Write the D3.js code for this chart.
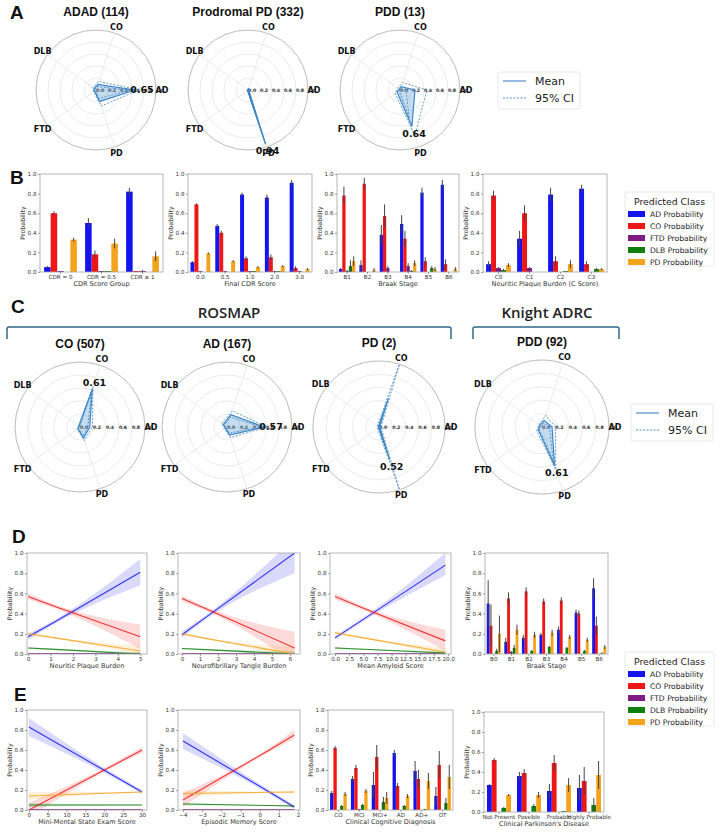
<!DOCTYPE html>
<html>
<head>
<meta charset="utf-8">
<script src="https://cdn.jsdelivr.net/npm/d3@7"></script>
<style>
body { margin: 0; background: #fff; }
</style>
</head>
<body>
<script>
// ---- classes / colours ----
var classes = ["AD", "CO", "FTD", "DLB", "PD"];
var classNames = ["AD Probability", "CO Probability", "FTD Probability", "DLB Probability", "PD Probability"];
var classColor = {AD: "#1414ee", CO: "#ee1616", FTD: "#7c1a86", DLB: "#0d800d", PD: "#f4a31c"};
// radar spokes, counter-clockwise from 3 o'clock
var radarAxes = ["AD", "CO", "DLB", "FTD", "PD"];
var radarTicks = [0, 0.2, 0.4, 0.6, 0.8, 1.0];

// ---- A : radar mean / 95% CI (order = radarAxes) ----
var adadMean = [0.65, 0.10, 0.04, 0.03, 0.20];
var adadLo   = [0.57, 0.06, 0.02, 0.01, 0.15];
var adadHi   = [0.72, 0.15, 0.07, 0.05, 0.28];
var prodMean = [0.01, 0.02, 0.01, 0.01, 0.94];
var prodLo   = [0.005, 0.015, 0.005, 0.005, 0.93];
var prodHi   = [0.015, 0.025, 0.015, 0.015, 0.95];
var pddMean  = [0.25, 0.06, 0.02, 0.06, 0.64];
var pddLo    = [0.10, 0.02, 0.00, 0.02, 0.50];
var pddHi    = [0.45, 0.13, 0.05, 0.10, 0.80];

// ---- C : radar mean / 95% CI ----
var rosCoMean = [0.15, 0.61, 0.02, 0.04, 0.18];
var rosCoLo   = [0.12, 0.57, 0.01, 0.03, 0.15];
var rosCoHi   = [0.19, 0.65, 0.03, 0.06, 0.22];
var rosAdMean = [0.57, 0.20, 0.07, 0.03, 0.13];
var rosAdLo   = [0.52, 0.16, 0.05, 0.02, 0.10];
var rosAdHi   = [0.62, 0.26, 0.10, 0.05, 0.17];
var rosPdMean = [0.01, 0.46, 0.01, 0.01, 0.52];
var rosPdLo   = [0.00, 0.00, 0.00, 0.00, 0.04];
var rosPdHi   = [0.03, 1.00, 0.03, 0.03, 1.00];
var knPddMean = [0.15, 0.10, 0.04, 0.07, 0.61];
var knPddLo   = [0.11, 0.06, 0.02, 0.05, 0.55];
var knPddHi   = [0.20, 0.18, 0.06, 0.10, 0.67];

// ---- B : bar charts ----
var cdrGroupCats = ["CDR = 0", "CDR = 0.5", "CDR \u2265 1"];
var cdrGroupVals = {AD: [0.05, 0.50, 0.82], CO: [0.60, 0.18, 0.01], FTD: [0.01, 0.01, 0.01], DLB: [0.00, 0.01, 0.00], PD: [0.33, 0.29, 0.16]};
var cdrGroupErr  = {AD: [0.01, 0.05, 0.04], CO: [0.02, 0.04, 0.00], FTD: [0, 0, 0.01], DLB: [0, 0, 0], PD: [0.02, 0.05, 0.05]};

var cdrCats = ["0.0", "0.5", "1.0", "2.0", "3.0"];
var cdrVals = {AD: [0.10, 0.47, 0.79, 0.76, 0.91], CO: [0.69, 0.40, 0.14, 0.15, 0.04], FTD: [0.01, 0.01, 0.01, 0.01, 0.01], DLB: [0.00, 0.00, 0.01, 0.01, 0.00], PD: [0.19, 0.11, 0.05, 0.06, 0.03]};
var cdrErr  = {AD: [0.01, 0.02, 0.02, 0.03, 0.03], CO: [0.01, 0.02, 0.02, 0.03, 0.02], FTD: [0, 0, 0, 0, 0], DLB: [0, 0, 0, 0, 0], PD: [0.01, 0.01, 0.01, 0.01, 0.01]};

var braakCats = ["B1", "B2", "B3", "B4", "B5", "B6"];
var braakVals = {AD: [0.03, 0.07, 0.38, 0.49, 0.81, 0.89], CO: [0.78, 0.90, 0.57, 0.34, 0.11, 0.08], FTD: [0.01, 0.00, 0.04, 0.06, 0.00, 0.00], DLB: [0.06, 0.00, 0.00, 0.01, 0.04, 0.00], PD: [0.11, 0.02, 0.00, 0.09, 0.03, 0.03]};
var braakErr  = {AD: [0.01, 0.05, 0.10, 0.09, 0.05, 0.05], CO: [0.09, 0.06, 0.12, 0.08, 0.04, 0.05], FTD: [0.01, 0, 0.02, 0.03, 0, 0], DLB: [0.06, 0, 0, 0.01, 0.02, 0], PD: [0.05, 0.02, 0, 0.03, 0.02, 0.02]};

var plaqueCats = ["C0", "C1", "C2", "C3"];
var plaqueVals = {AD: [0.08, 0.34, 0.79, 0.85], CO: [0.78, 0.60, 0.11, 0.08], FTD: [0.04, 0.04, 0.00, 0.00], DLB: [0.02, 0.00, 0.01, 0.03], PD: [0.07, 0.00, 0.08, 0.03]};
var plaqueErr  = {AD: [0.03, 0.08, 0.07, 0.04], CO: [0.05, 0.08, 0.05, 0.03], FTD: [0.01, 0.01, 0, 0], DLB: [0.01, 0, 0, 0.01], PD: [0.02, 0, 0.04, 0.01]};

// ---- D : regression lines (value at xs), Braak bars ----
var npbXs = [0, 1.2, 5];
var npbMean = {AD: [0.17, 0.32, 0.81], CO: [0.57, 0.47, 0.17], FTD: [0.005, 0.005, 0.005], DLB: [0.06, 0.046, 0.00], PD: [0.20, 0.16, 0.03]};
var npbLo   = {AD: [0.14, 0.30, 0.68], CO: [0.54, 0.45, 0.05], FTD: [0.0, 0.0, 0.0], DLB: [0.05, 0.04, -0.02], PD: [0.18, 0.15, -0.01]};
var npbHi   = {AD: [0.20, 0.34, 0.94], CO: [0.60, 0.49, 0.29], FTD: [0.01, 0.01, 0.015], DLB: [0.07, 0.052, 0.02], PD: [0.22, 0.17, 0.08]};

var nftXs = [0, 1.3, 6.25];
var nftMean = {AD: [0.19, 0.36, 1.00], CO: [0.55, 0.45, 0.06], FTD: [0.005, 0.005, 0.005], DLB: [0.055, 0.043, 0.00], PD: [0.20, 0.155, 0.00]};
var nftLo   = {AD: [0.16, 0.34, 0.80], CO: [0.52, 0.43, -0.08], FTD: [0.0, 0.0, 0.0], DLB: [0.045, 0.038, -0.03], PD: [0.18, 0.145, -0.05]};
var nftHi   = {AD: [0.22, 0.38, 1.15], CO: [0.58, 0.47, 0.22], FTD: [0.01, 0.01, 0.015], DLB: [0.065, 0.048, 0.03], PD: [0.22, 0.165, 0.07]};

var amyXs = [0, 6, 19.5];
var amyMean = {AD: [0.16, 0.38, 0.88], CO: [0.57, 0.43, 0.13], FTD: [0.005, 0.005, 0.005], DLB: [0.06, 0.045, 0.01], PD: [0.21, 0.15, 0.02]};
var amyLo   = {AD: [0.14, 0.36, 0.78], CO: [0.54, 0.41, 0.03], FTD: [0.0, 0.0, 0.0], DLB: [0.05, 0.04, -0.01], PD: [0.19, 0.14, -0.02]};
var amyHi   = {AD: [0.18, 0.40, 1.00], CO: [0.60, 0.45, 0.24], FTD: [0.01, 0.01, 0.015], DLB: [0.07, 0.05, 0.03], PD: [0.23, 0.16, 0.06]};

var braak0Cats = ["B0", "B1", "B2", "B3", "B4", "B5", "B6"];
var braak0Vals = {AD: [0.50, 0.12, 0.16, 0.19, 0.24, 0.41, 0.65], CO: [0.28, 0.55, 0.62, 0.52, 0.53, 0.40, 0.28], FTD: [0.00, 0.02, 0.00, 0.00, 0.00, 0.00, 0.00], DLB: [0.03, 0.06, 0.03, 0.07, 0.06, 0.03, 0.01], PD: [0.20, 0.24, 0.19, 0.21, 0.17, 0.14, 0.07]};
var braak0Err  = {AD: [0.23, 0.04, 0.03, 0.02, 0.03, 0.03, 0.10], CO: [0.21, 0.06, 0.04, 0.03, 0.03, 0.03, 0.09], FTD: [0, 0.01, 0, 0, 0, 0, 0], DLB: [0.02, 0.03, 0.01, 0.01, 0.01, 0.01, 0.005], PD: [0.18, 0.05, 0.03, 0.03, 0.02, 0.02, 0.02]};

// ---- E ----
var mmseXs = [0, 24, 30];
var mmseMean = {AD: [0.83, 0.31, 0.18], CO: [0.00, 0.48, 0.60], FTD: [0.004, 0.004, 0.004], DLB: [0.05, 0.05, 0.05], PD: [0.14, 0.172, 0.18]};
var mmseLo   = {AD: [0.74, 0.29, 0.16], CO: [-0.07, 0.46, 0.57], FTD: [0.0, 0.0, 0.0], DLB: [0.03, 0.045, 0.045], PD: [0.10, 0.165, 0.17]};
var mmseHi   = {AD: [0.92, 0.33, 0.20], CO: [0.07, 0.50, 0.63], FTD: [0.01, 0.008, 0.008], DLB: [0.07, 0.055, 0.055], PD: [0.18, 0.18, 0.19]};

var memXs = [-4, 0.5, 1.8];
var memMean = {AD: [0.69, 0.18, 0.03], CO: [0.10, 0.60, 0.75], FTD: [0.004, 0.004, 0.004], DLB: [0.06, 0.045, 0.04], PD: [0.165, 0.177, 0.18]};
var memLo   = {AD: [0.61, 0.16, 0.01], CO: [0.03, 0.58, 0.71], FTD: [0.0, 0.0, 0.0], DLB: [0.045, 0.04, 0.03], PD: [0.13, 0.17, 0.165]};
var memHi   = {AD: [0.77, 0.20, 0.05], CO: [0.17, 0.62, 0.80], FTD: [0.01, 0.008, 0.008], DLB: [0.075, 0.05, 0.05], PD: [0.20, 0.185, 0.195]};

var cogCats = ["CO", "MCI", "MCI+", "AD", "AD+", "OT"];
var cogVals = {AD: [0.17, 0.31, 0.25, 0.57, 0.39, 0.14], CO: [0.62, 0.42, 0.53, 0.24, 0.31, 0.45], FTD: [0.00, 0.01, 0.00, 0.00, 0.00, 0.00], DLB: [0.04, 0.05, 0.08, 0.04, 0.01, 0.07], PD: [0.16, 0.19, 0.12, 0.14, 0.29, 0.33]};
var cogErr  = {AD: [0.02, 0.03, 0.13, 0.03, 0.10, 0.09], CO: [0.02, 0.03, 0.12, 0.03, 0.09, 0.14], FTD: [0, 0, 0, 0, 0, 0], DLB: [0.01, 0.01, 0.05, 0.01, 0.0, 0.05], PD: [0.02, 0.02, 0.06, 0.02, 0.08, 0.12]};

var pdCats = ["Not Present", "Possible", "Probable", "Highly Probable"];
var pdVals = {AD: [0.27, 0.36, 0.21, 0.24], CO: [0.52, 0.39, 0.49, 0.31], FTD: [0.00, 0.00, 0.00, 0.00], DLB: [0.04, 0.06, 0.01, 0.07], PD: [0.17, 0.17, 0.27, 0.37]};
var pdErr  = {AD: [0.01, 0.04, 0.07, 0.13], CO: [0.02, 0.04, 0.08, 0.14], FTD: [0, 0, 0, 0], DLB: [0.01, 0.02, 0.0, 0.07], PD: [0.01, 0.03, 0.07, 0.14]};

var probTicks = [0, 0.2, 0.4, 0.6, 0.8, 1.0];

// ---------------------------------------------------------------
var W = 720, H = 832;
var svg = d3.select("body").append("svg")
    .attr("width", W)
    .attr("height", H)
    .style("font-family", "'DejaVu Sans', sans-serif");
svg.append("rect").attr("width", W).attr("height", H).attr("fill", "#fff");

var titleFont = "'Liberation Sans', Arial, sans-serif";
var radarBlue = "#3d86c6";
var clipId = 0;

function panelLetter(txt, x, y) {
  svg.append("text").attr("x", x).attr("y", y).text(txt)
    .style("font-family", titleFont).style("font-weight", "bold").style("font-size", "19px").attr("fill", "#111");
}

function radar(cx, cy, R, title, mean, lo, hi) {
  var g = svg.append("g").attr("transform", "translate(" + cx + "," + cy + ")");
  var r = d3.scaleLinear().domain([0, 1]).range([0, R]);
  var ang = d3.scaleLinear().domain([0, radarAxes.length]).range([0, 2 * Math.PI]);
  function pt(i, v) { var a = ang(i); return [r(v) * Math.cos(a), -r(v) * Math.sin(a)]; }

  g.selectAll(".ring").data([0.2, 0.4, 0.6, 0.8]).enter().append("circle")
    .attr("r", function(d) { return r(d); })
    .attr("fill", "none").attr("stroke", "#e6e6e6").attr("stroke-width", 0.8);
  g.append("circle").attr("r", R).attr("fill", "none").attr("stroke", "#b3b3b3").attr("stroke-width", 0.9);

  g.selectAll(".spoke").data(radarAxes).enter().append("line")
    .attr("x1", 0).attr("y1", 0)
    .attr("x2", function(d, i) { return pt(i, 1)[0]; })
    .attr("y2", function(d, i) { return pt(i, 1)[1]; })
    .attr("stroke", "#e6e6e6").attr("stroke-width", 0.8);

  g.selectAll(".rtick").data(radarTicks).enter().append("text")
    .attr("x", function(d) { return r(d) + 4; }).attr("y", 0)
    .attr("dy", "0.35em").attr("text-anchor", "middle")
    .style("font-size", "4.6px").style("font-weight", "bold").attr("fill", "#333")
    .text(d3.format(".1f"));

  var closed = d3.line().curve(d3.curveLinearClosed);
  g.append("path").attr("d", closed(mean.map(function(v, i) { return pt(i, v); })))
    .attr("fill", "#5b9bd5").attr("fill-opacity", 0.35)
    .attr("stroke", radarBlue).attr("stroke-width", 1.2);
  [lo, hi].forEach(function(s) {
    g.append("path").attr("d", closed(s.map(function(v, i) { return pt(i, v); })))
      .attr("fill", "none").attr("stroke", radarBlue).attr("stroke-width", 0.8)
      .attr("stroke-dasharray", "2,1.5");
  });

  g.selectAll(".alab").data(radarAxes).enter().append("text")
    .attr("x", function(d, i) { return pt(i, 1)[0] * (R + 6) / R; })
    .attr("y", function(d, i) { return pt(i, 1)[1] * (R + 6) / R; })
    .attr("dy", "0.35em").attr("text-anchor", "middle")
    .style("font-size", "8px").style("font-weight", "bold").attr("fill", "#111")
    .text(function(d) { return d; });

  var im = d3.maxIndex(mean);
  var a = ang(im), rr = r(mean[im]) + 7;
  g.append("text").attr("x", rr * Math.cos(a)).attr("y", -rr * Math.sin(a))
    .attr("dy", "0.35em").attr("text-anchor", "middle")
    .style("font-size", "9.5px").style("font-weight", "bold").attr("fill", "#111")
    .text(d3.format(".2f")(mean[im]));

  g.append("text").attr("x", 0).attr("y", -R - 14).attr("text-anchor", "middle")
    .style("font-family", titleFont).style("font-weight", "bold").style("font-size", "12px").attr("fill", "#111")
    .text(title);
}

function frameAndAxes(g, x, y, w, h, xAxis, xlabel) {
  var yS = d3.scaleLinear().domain([0, 1]).range([h, 0]);
  g.append("rect").attr("width", w).attr("height", h).attr("fill", "none").attr("stroke", "#a6a6a6").attr("stroke-width", 0.8);
  var ya = g.append("g").call(d3.axisLeft(yS).tickValues(probTicks).tickFormat(d3.format(".1f")).tickSize(2).tickPadding(1.5));
  var xa = g.append("g").attr("transform", "translate(0," + h + ")").call(xAxis.tickSize(2).tickPadding(1.5));
  [ya, xa].forEach(function(a) {
    a.select(".domain").remove();
    a.selectAll("line").attr("stroke", "#666").attr("stroke-width", 0.6);
    a.selectAll("text").style("font-size", "5.6px").attr("fill", "#333").style("font-family", "'DejaVu Sans', sans-serif");
  });
  g.append("text").attr("transform", "translate(-15," + (h / 2) + ") rotate(-90)")
    .attr("text-anchor", "middle").style("font-size", "6.3px").attr("fill", "#333").text("Probability");
  g.append("text").attr("x", w / 2).attr("y", h + 14).attr("text-anchor", "middle")
    .style("font-size", "6.5px").attr("fill", "#333").text(xlabel);
  return yS;
}

function barChart(x, y, w, h, cats, vals, errs, xlabel) {
  var g = svg.append("g").attr("transform", "translate(" + x + "," + y + ")");
  var x0 = d3.scaleBand().domain(cats).range([0, w]).padding(0);
  var x1 = d3.scaleBand().domain(classes).range([0.1 * x0.bandwidth(), 0.9 * x0.bandwidth()]).padding(0);
  var yS = d3.scaleLinear().domain([0, 1]).range([h, 0]);

  var grp = g.selectAll(".cat").data(cats).enter().append("g")
    .attr("transform", function(d) { return "translate(" + x0(d) + ",0)"; });
  grp.selectAll("rect").data(function(d, ci) {
      return classes.map(function(k) { return {k: k, v: vals[k][ci], e: errs[k][ci]}; });
    })
    .enter().append("rect")
    .attr("x", function(d) { return x1(d.k); })
    .attr("width", x1.bandwidth())
    .attr("y", function(d) { return yS(d.v); })
    .attr("height", function(d) { return h - yS(d.v); })
    .attr("fill", function(d) { return classColor[d.k]; });
  grp.selectAll("line").data(function(d, ci) {
      return classes.map(function(k) { return {k: k, v: vals[k][ci], e: errs[k][ci]}; })
        .filter(function(d) { return d.e > 0; });
    })
    .enter().append("line")
    .attr("x1", function(d) { return x1(d.k) + x1.bandwidth() / 2; })
    .attr("x2", function(d) { return x1(d.k) + x1.bandwidth() / 2; })
    .attr("y1", function(d) { return yS(Math.max(0, d.v - d.e)); })
    .attr("y2", function(d) { return yS(d.v + d.e); })
    .attr("stroke", "#444").attr("stroke-width", 1);

  frameAndAxes(g, x, y, w, h, d3.axisBottom(x0), xlabel);
}

function lineChart(x, y, w, h, xdom, ticks, fmt, xs, mean, lo, hi, xlabel) {
  var g = svg.append("g").attr("transform", "translate(" + x + "," + y + ")");
  var xS = d3.scaleLinear().domain(xdom).range([0, w]);
  var yS = d3.scaleLinear().domain([0, 1]).range([h, 0]);
  var id = "clip" + (clipId++);
  g.append("clipPath").attr("id", id).append("rect").attr("width", w).attr("height", h);
  var plot = g.append("g").attr("clip-path", "url(#" + id + ")");

  var area = d3.area().curve(d3.curveMonotoneX)
    .x(function(d) { return xS(d[0]); })
    .y0(function(d) { return yS(d[1]); })
    .y1(function(d) { return yS(d[2]); });
  var line = d3.line().x(function(d) { return xS(d[0]); }).y(function(d) { return yS(d[1]); });

  classes.forEach(function(k) {
    plot.append("path")
      .attr("d", area(xs.map(function(v, i) { return [v, lo[k][i], hi[k][i]]; })))
      .attr("fill", classColor[k]).attr("fill-opacity", 0.16);
  });
  classes.forEach(function(k) {
    plot.append("path")
      .attr("d", line(xs.map(function(v, i) { return [v, mean[k][i]]; })))
      .attr("fill", "none").attr("stroke", classColor[k]).attr("stroke-width", 1.1).attr("stroke-opacity", 0.85);
  });
  frameAndAxes(g, x, y, w, h, d3.axisBottom(xS).tickValues(ticks).tickFormat(fmt), xlabel);
}

function radarLegend(x, y) {
  var g = svg.append("g").attr("transform", "translate(" + x + "," + y + ")");
  g.append("rect").attr("width", 82).attr("height", 37).attr("rx", 2)
    .attr("fill", "#fff").attr("stroke", "#e2e2e2").attr("stroke-width", 0.8);
  g.append("line").attr("x1", 5).attr("x2", 28).attr("y1", 9).attr("y2", 9).attr("stroke", radarBlue).attr("stroke-width", 1.1);
  g.append("line").attr("x1", 5).attr("x2", 28).attr("y1", 26).attr("y2", 26).attr("stroke", radarBlue).attr("stroke-width", 0.9).attr("stroke-dasharray", "2,1.5");
  g.append("text").attr("x", 37).attr("y", 9).attr("dy", "0.35em").style("font-size", "11px").attr("fill", "#222").text("Mean");
  g.append("text").attr("x", 37).attr("y", 26).attr("dy", "0.35em").style("font-size", "11px").attr("fill", "#222").text("95% CI");
}

function classLegend(x, y) {
  var g = svg.append("g").attr("transform", "translate(" + x + "," + y + ")");
  g.append("rect").attr("width", 89).attr("height", 74).attr("rx", 2)
    .attr("fill", "#fff").attr("stroke", "#e2e2e2").attr("stroke-width", 0.8);
  g.append("text").attr("x", 44.5).attr("y", 10).attr("dy", "0.35em").attr("text-anchor", "middle")
    .style("font-size", "9.3px").attr("fill", "#222").text("Predicted Class");
  var it = g.selectAll(".it").data(classes).enter().append("g")
    .attr("transform", function(d, i) { return "translate(0," + (22 + i * 12) + ")"; });
  it.append("rect").attr("x", 3).attr("y", -3).attr("width", 17).attr("height", 6)
    .attr("fill", function(d) { return classColor[d]; });
  it.append("text").attr("x", 25).attr("dy", "0.35em").style("font-size", "7.6px").attr("fill", "#222")
    .text(function(d, i) { return classNames[i]; });
}

function bracket(x1, x2, yTop, yEnd) {
  svg.append("path")
    .attr("d", "M" + x1 + "," + yEnd + " V" + (yTop + 2) + " Q" + x1 + "," + yTop + " " + (x1 + 2) + "," + yTop +
               " H" + (x2 - 2) + " Q" + x2 + "," + yTop + " " + x2 + "," + (yTop + 2) + " V" + yEnd)
    .attr("fill", "none").attr("stroke", "#2c6a88").attr("stroke-width", 1.5);
}

// ---- A ----
panelLetter("A", 10, 19);
radar(96, 90, 60, "ADAD (114)", adadMean, adadLo, adadHi);
radar(248, 90, 60, "Prodromal PD (332)", prodMean, prodLo, prodHi);
radar(400, 90, 60, "PDD (13)", pddMean, pddLo, pddHi);
radarLegend(498, 72);

// ---- B ----
panelLetter("B", 10, 184);
barChart(40, 174, 123, 98, cdrGroupCats, cdrGroupVals, cdrGroupErr, "CDR Score Group");
barChart(188, 174, 124, 98, cdrCats, cdrVals, cdrErr, "Final CDR Score");
barChart(337, 174, 122, 98, braakCats, braakVals, braakErr, "Braak Stage");
barChart(483, 174, 124, 98, plaqueCats, plaqueVals, plaqueErr, "Neuritic Plaque Burden (C Score)");
classLegend(625, 192);

// ---- C ----
panelLetter("C", 11, 313);
svg.append("text").attr("x", 229).attr("y", 318).attr("text-anchor", "middle")
  .style("font-family", "'Open Sans', sans-serif").style("font-weight", 600).style("font-size", "15px").attr("fill", "#222").text("ROSMAP");
svg.append("text").attr("x", 547).attr("y", 318).attr("text-anchor", "middle")
  .style("font-family", "'Open Sans', sans-serif").style("font-weight", 600).style("font-size", "15px").attr("fill", "#222").text("Knight ADRC");
bracket(7, 451, 327, 339);
bracket(473, 619, 327, 339);
radar(80, 427, 65, "CO (507)", rosCoMean, rosCoLo, rosCoHi);
radar(227, 427, 65, "AD (167)", rosAdMean, rosAdLo, rosAdHi);
radar(379, 427, 66, "PD (2)", rosPdMean, rosPdLo, rosPdHi);
radar(542, 427, 67, "PDD (92)", knPddMean, knPddLo, knPddHi);
radarLegend(631, 404);

// ---- D ----
panelLetter("D", 12, 543);
lineChart(27, 553, 120, 101, [-0.05, 5.3], [0, 1, 2, 3, 4, 5], d3.format("d"), npbXs, npbMean, npbLo, npbHi, "Neuritic Plaque Burden");
lineChart(178, 553, 122, 101, [-0.22, 6.55], [0, 1, 2, 3, 4, 5, 6], d3.format("d"), nftXs, nftMean, nftLo, nftHi, "Neurofibrillary Tangle Burden");
lineChart(330, 553, 121, 101, [-0.9, 20.5], d3.range(0, 20.1, 2.5), d3.format(".1f"), amyXs, amyMean, amyLo, amyHi, "Mean Amyloid Score");
barChart(485, 553, 123, 101, braak0Cats, braak0Vals, braak0Err, "Braak Stage");
classLegend(625, 652);

// ---- E ----
panelLetter("E", 14, 701);
lineChart(27, 710, 120, 100, [-0.5, 31.3], [0, 5, 10, 15, 20, 25, 30], d3.format("d"), mmseXs, mmseMean, mmseLo, mmseHi, "Mini-Mental State Exam Score");
lineChart(178, 710, 122, 100, [-4.26, 2.1], [-4, -3, -2, -1, 0, 1, 2], d3.format("d"), memXs, memMean, memLo, memHi, "Episodic Memory Score");
barChart(328, 710, 125, 100, cogCats, cogVals, cogErr, "Clinical Cognitive Diagnosis");
barChart(484, 712, 120, 100, pdCats, pdVals, pdErr, "Clinical Parkinson's Disease");
</script>
</body>
</html>
